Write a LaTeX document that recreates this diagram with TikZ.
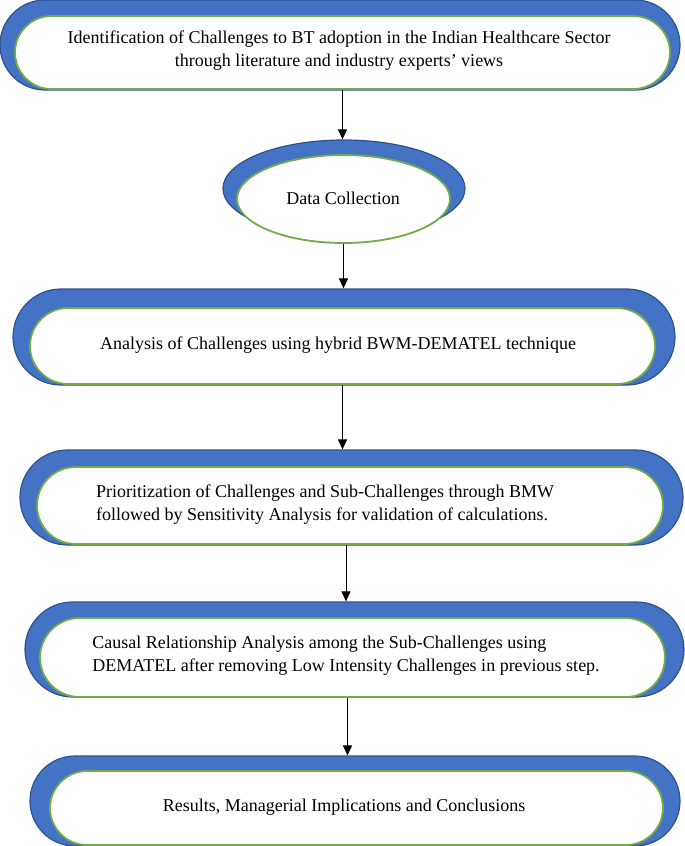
\documentclass[tikz,border=0pt]{standalone}
\usepackage{fontspec}
\setmainfont{Liberation Serif}
\usepackage{tikz}
\usetikzlibrary{arrows.meta,shapes.misc,shapes.geometric}
\definecolor{bandBlue}{HTML}{4472C4}
\definecolor{bandEdge}{HTML}{2F528F}
\definecolor{rimGreen}{HTML}{70AD47}

\begin{document}
\begin{tikzpicture}[
  x=1pt, y=-1pt,
  outer/.style={rounded rectangle, draw=bandEdge, fill=bandBlue, line width=1.2pt, inner sep=0pt},
  inner/.style={rounded rectangle, draw=rimGreen, fill=white, line width=1.8pt, inner sep=0pt},
  label/.style={font=\fontsize{18}{23}\selectfont, align=center, inner sep=0pt},
  arrow/.style={-{Triangle[width=9pt,length=10pt]}, line width=1pt, color=black}
]
\useasboundingbox (0,0) rectangle (685,846);
% step 1
\node[outer, minimum width=680pt, minimum height=90pt] (identOut) at (340,45) {};
\node[inner, minimum width=655pt, minimum height=73pt] (identIn) at (342.5,52.5) {};
\node[label] (identTxt) at (339,51) {Identification of Challenges to BT adoption in the Indian Healthcare Sector\\through literature and industry experts’ views};
% data collection
\node[ellipse, draw=bandEdge, fill=bandBlue, line width=1.2pt, minimum width=242pt, minimum height=97pt, inner sep=0pt] (dataOut) at (344,188.5) {};
\node[ellipse, draw=rimGreen, fill=white, line width=1.8pt, minimum width=213pt, minimum height=88pt, inner sep=0pt] (dataIn) at (343.5,199) {};
\node[label] (dataTxt) at (343,198) {Data Collection};
% analysis
\node[outer, minimum width=662pt, minimum height=96pt] (anaOut) at (344,337) {};
\node[inner, minimum width=625pt, minimum height=76pt] (anaIn) at (342.5,346) {};
\node[label] (anaTxt) at (338,345) {Analysis of Challenges using hybrid BWM-DEMATEL technique};
% prioritization
\node[outer, minimum width=663pt, minimum height=95pt] (prioOut) at (351.5,497.5) {};
\node[inner, minimum width=626pt, minimum height=77pt] (prioIn) at (350,505.5) {};
\node[label, align=left] (prioTxt) at (325,505) {Prioritization of Challenges and Sub-Challenges through BMW\\followed by Sensitivity Analysis for validation of calculations.};
% causal analysis
\node[outer, minimum width=659pt, minimum height=95pt] (causOut) at (354.5,649.5) {};
\node[inner, minimum width=625pt, minimum height=79pt] (causIn) at (352.5,657.5) {};
\node[label, align=left] (causTxt) at (346,656) {Causal Relationship Analysis among the Sub-Challenges using\\DEMATEL after removing Low Intensity Challenges in previous step.};
% results
\node[outer, minimum width=650pt, minimum height=90pt] (resOut) at (355,801) {};
\node[inner, minimum width=613pt, minimum height=74pt] (resIn) at (356.5,808) {};
\node[label] (resTxt) at (344,807) {Results, Managerial Implications and Conclusions};
% arrows
\draw[arrow] (identIn.south) -- (identIn.south |- dataOut.north);
\draw[arrow] (dataIn.south) -- (dataIn.south |- anaOut.north);
\draw[arrow] (anaIn.south) -- (anaIn.south |- prioOut.north);
\draw[arrow] ([xshift=-4pt]prioIn.south) -- ([xshift=-4pt]prioIn.south |- causOut.north);
\draw[arrow] ([xshift=-5pt]causIn.south) -- ([xshift=-5pt]causIn.south |- resOut.north);
\end{tikzpicture}
\end{document}
